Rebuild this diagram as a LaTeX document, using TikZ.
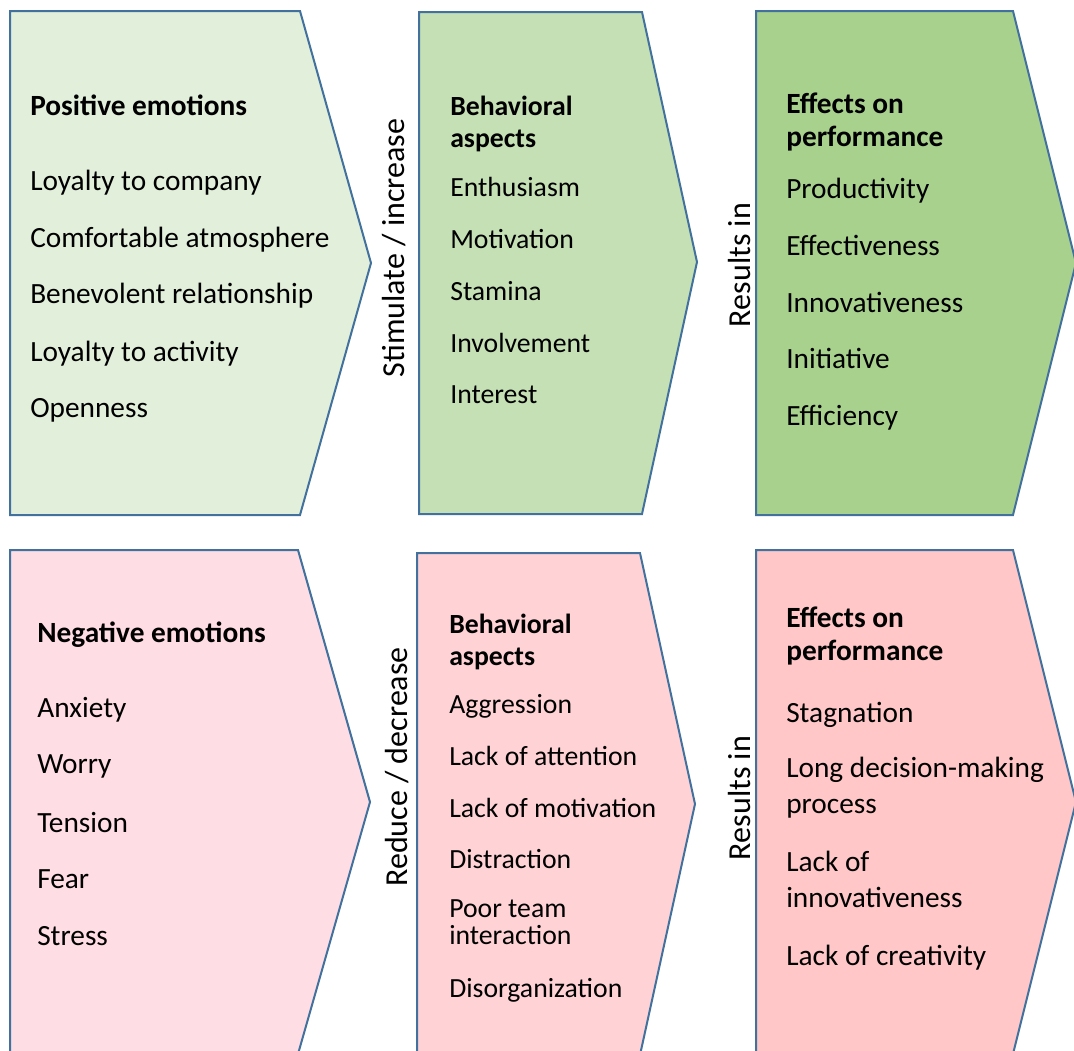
\documentclass[tikz,border=0pt]{standalone}
\usepackage{fontspec}
\setmainfont{Carlito}
\definecolor{edge}{HTML}{41719C}
\definecolor{gA}{HTML}{E2EFDA}
\definecolor{gB}{HTML}{C5E0B4}
\definecolor{gC}{HTML}{A9D18E}
\definecolor{rA}{HTML}{FFDDE4}
\definecolor{rB}{HTML}{FFD3D6}
\definecolor{rC}{HTML}{FFC7C7}
\tikzset{
  chevron/.style={draw=edge, line width=1.5pt, line join=miter},
  % multi-line nodes sit on the baseline of their last line
  item/.style={anchor=base west, inner sep=0pt, align=left, font=\fontsize{22pt}{26.4pt}\selectfont},
  itemsm/.style={anchor=base west, inner sep=0pt, align=left, font=\fontsize{20.8pt}{20pt}\selectfont},
  head/.style={anchor=base west, inner sep=0pt, align=left, font=\fontsize{22pt}{24.5pt}\selectfont\bfseries},
  headsm/.style={anchor=base west, inner sep=0pt, align=left, font=\fontsize{20.8pt}{24pt}\selectfont\bfseries},
  link/.style={anchor=base, inner sep=0pt, rotate=90, font=\fontsize{24pt}{28pt}\selectfont}
}
\begin{document}
\begin{tikzpicture}[x=0.75pt, y=-0.75pt]
\useasboundingbox (0,0) rectangle (1074,1050);
\clip (0,0) rectangle (1074,1050);

% upper row: positive chain
\draw[chevron, fill=gA] (10,11) -- (300,11) -- (371,263) -- (300,515) -- (10,515) -- cycle;
\draw[chevron, fill=gB] (419,12) -- (642,12) -- (697,262) -- (642,514) -- (419,514) -- cycle;
\draw[chevron, fill=gC] (756,11) -- (1013,11) -- (1076,263) -- (1013,515) -- (756,515) -- cycle;

% lower row: negative chain
\draw[chevron, fill=rA] (10,550) -- (298,550) -- (370,802) -- (298,1054) -- (10,1054) -- cycle;
\draw[chevron, fill=rB] (417,553) -- (640,553) -- (695,804) -- (640,1055) -- (417,1055) -- cycle;
\draw[chevron, fill=rC] (756,550) -- (1013,550) -- (1076,802) -- (1013,1054) -- (756,1054) -- cycle;

% positive emotions
\node[head] (pe) at (30,115) {Positive emotions};
\node[item] (pe1) at (30,190) {Loyalty to company};
\node[item] (pe2) at (30,247) {Comfortable atmosphere};
\node[item] (pe3) at (30,303) {Benevolent relationship};
\node[item] (pe4) at (30,361) {Loyalty to activity};
\node[item] (pe5) at (30,417) {Openness};

% positive behaviour
\node[headsm] (pb) at (450,147) {Behavioral\\aspects};
\node[itemsm] (pb1) at (450,196) {Enthusiasm};
\node[itemsm] (pb2) at (450,248) {Motivation};
\node[itemsm] (pb3) at (450,300) {Stamina};
\node[itemsm] (pb4) at (450,352) {Involvement};
\node[itemsm] (pb5) at (450,403) {Interest};

% positive effects
\node[head] (pf) at (786,146) {Effects on\\performance};
\node[item] (pf1) at (786,198) {Productivity};
\node[item] (pf2) at (786,255) {Effectiveness};
\node[item] (pf3) at (786,312) {Innovativeness};
\node[item] (pf4) at (786,368) {Initiative};
\node[item] (pf5) at (786,425) {Efficiency};

% negative emotions
\node[head] (ne) at (37,642) {Negative emotions};
\node[item] (ne1) at (37,717) {Anxiety};
\node[item] (ne2) at (37,773) {Worry};
\node[item] (ne3) at (37,832) {Tension};
\node[item] (ne4) at (37,888) {Fear};
\node[item] (ne5) at (37,945) {Stress};

% negative behaviour
\node[headsm] (nb) at (449,665) {Behavioral\\aspects};
\node[itemsm] (nb1) at (449,713) {Aggression};
\node[itemsm] (nb2) at (449,765) {Lack of attention};
\node[itemsm] (nb3) at (449,817) {Lack of motivation};
\node[itemsm] (nb4) at (449,868) {Distraction};
\node[itemsm] (nb5) at (449,944) {Poor team\\interaction};
\node[itemsm] (nb6) at (449,997) {Disorganization};

% negative effects
\node[head] (nf) at (786,660) {Effects on\\performance};
\node[item] (nf1) at (786,722) {Stagnation};
\node[item] (nf2) at (786,813) {Long decision-making\\process};
\node[item] (nf3) at (786,907) {Lack of\\innovativeness};
\node[item] (nf4) at (786,965) {Lack of creativity};

% labels between the stages
\node[link] (up1) at (404,248) {Stimulate / increase};
\node[link] (up2) at (750,265) {Results in};
\node[link] (dn1) at (407,767) {Reduce / decrease};
\node[link] (dn2) at (750,798) {Results in};
\end{tikzpicture}
\end{document}
